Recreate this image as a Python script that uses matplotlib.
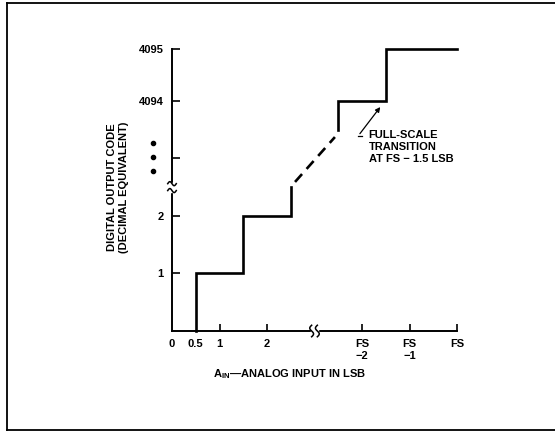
import numpy as np
import matplotlib
matplotlib.use("Agg")
import matplotlib.pyplot as plt
from matplotlib.lines import Line2D

plt.rcParams['font.family'] = ['Liberation Sans', 'DejaVu Sans']
plt.rcParams['font.weight'] = 'bold'
plt.rcParams['mathtext.fontset'] = 'custom'
plt.rcParams['mathtext.rm'] = 'Liberation Sans:bold'
plt.rcParams['mathtext.bf'] = 'Liberation Sans:bold'

# axis positions (x in LSB, with break at 3; y in code steps, break at 2.5)
x_ticks = [0, 0.5, 1, 2, 4, 5, 6]
x_labels = ['0', '0.5', '1', '2', 'FS\n\u22122', 'FS\n\u22121', 'FS']
y_ticks = [1, 2, 3, 4, 4.9]
y_labels = ['1', '2', '', '4094', '4095']

# transfer function, lower part
step_lo_x = [0.5, 0.5, 1.5, 1.5, 2.5, 2.5]
step_lo_y = [0, 1, 1, 2, 2, 2.5]
# dashed continuation
dash_x = [2.59, 3.43]
dash_y = [2.59, 3.37]
# upper part
step_hi_x = [3.5, 3.5, 4.5, 4.5, 6.0]
step_hi_y = [3.5, 4, 4, 4.9, 4.9]

FS = 8

W, H = 555, 432
fig = plt.figure(figsize=(W / 100, H / 100), dpi=100)
x0, x6 = 172, 457
y0, y49 = 331, 49
ax = fig.add_axes([x0 / W, (H - y0) / H, (x6 - x0) / W, (y0 - y49) / H])
ax.set_xlim(0, 6)
ax.set_ylim(0, 4.9)

for s in ['top', 'right']:
    ax.spines[s].set_visible(False)
for s in ['left', 'bottom']:
    ax.spines[s].set_linewidth(1.4)

ax.set_xticks(x_ticks)
ax.set_xticklabels(x_labels, fontsize=FS, fontweight='bold', linespacing=1.25)
ax.set_yticks(y_ticks)
ax.set_yticklabels(y_labels, fontsize=FS, fontweight='bold')
ax.tick_params(axis='x', direction='in', length=5, width=1.2, pad=6)
ax.tick_params(axis='y', direction='in', length=6, width=1.2, pad=6)
ax.xaxis.get_major_ticks()[0].tick1line.set_visible(False)
ax.xaxis.get_major_ticks()[1].tick1line.set_visible(False)

ax.plot(step_lo_x, step_lo_y, color='black', lw=1.9, clip_on=False,
        solid_joinstyle='miter')
ax.plot(dash_x, dash_y, color='black', lw=1.9, dashes=(4, 2.6), clip_on=False)
ax.plot(step_hi_x, step_hi_y, color='black', lw=1.9, clip_on=False,
        solid_joinstyle='miter')

# axis breaks
ax.add_patch(plt.Rectangle((-0.05, 2.42), 0.1, 0.16, color='white',
                           transform=ax.transData, clip_on=False, zorder=3))
t = np.linspace(0, 1, 30)
for yy in [2.44, 2.56]:
    ax.plot(-0.09 + 0.18 * t, yy + 0.035 * np.sin(2 * np.pi * t), color='black',
            lw=1.1, clip_on=False, zorder=4)
ax.add_patch(plt.Rectangle((2.92, -0.06), 0.16, 0.12, color='white',
                           transform=ax.transData, clip_on=False, zorder=3))
for xx in [2.94, 3.06]:
    ax.plot(xx + 0.04 * np.sin(2 * np.pi * t), -0.1 + 0.2 * t, color='black',
            lw=1.1, clip_on=False, zorder=4)

# ellipsis dots
ax.plot([-0.4] * 3, [3.27, 3.03, 2.78], 'o', color='black', ms=3.0, clip_on=False)

# annotation
ax.annotate('', xy=(4.42, 3.93), xytext=(3.92, 3.39),
            arrowprops=dict(arrowstyle='-|>', color='black', lw=0.9,
                            mutation_scale=7))
ax.plot([3.92, 3.99], [3.39, 3.39], color='black', lw=0.9)
ax.text(4.14, 3.5, 'FULL-SCALE\nTRANSITION\nAT FS \u2212 1.5 LSB', fontsize=FS,
        fontweight='bold', ha='left', va='top', linespacing=1.25)

fig.text(118 / W, 1 - 187 / H, 'DIGITAL OUTPUT CODE\n(DECIMAL EQUIVALENT)',
         rotation=90, ha='center', va='center', fontsize=FS, fontweight='bold',
         linespacing=1.2)
fig.text(290 / W, 1 - 374 / H, 'A$_{\\mathrm{IN}}$\u2014ANALOG INPUT IN LSB',
         ha='center', va='center', fontsize=FS, fontweight='bold')

# frame around the figure
fig.add_artist(Line2D([7 / W, 7 / W], [1 - 3 / H, 1 - 430 / H], color='black',
                      lw=1.3, transform=fig.transFigure))
fig.add_artist(Line2D([7 / W, 1], [1 - 3 / H, 1 - 3 / H], color='black',
                      lw=1.3, transform=fig.transFigure))
fig.add_artist(Line2D([7 / W, 1], [1 - 430 / H, 1 - 430 / H], color='black',
                      lw=1.3, transform=fig.transFigure))

fig.savefig('out.png', dpi=100)
